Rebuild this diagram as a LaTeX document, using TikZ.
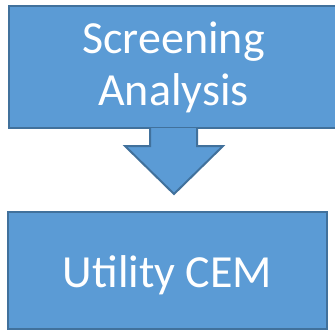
\documentclass[tikz,border=0pt]{standalone}
\usepackage{fontspec}
\setmainfont{Carlito}
\definecolor{boxfill}{RGB}{91,155,213}
\definecolor{boxline}{RGB}{65,113,156}
\tikzset{
  blockbox/.style={draw=boxline, fill=boxfill, line width=2pt, text=white,
    align=center, inner sep=0pt, font=\fontsize{46}{52}\selectfont},
  arrowfill/.style={fill=boxfill},
  arrowline/.style={draw=boxline, line width=2pt, line join=miter}
}
\begin{document}
\begin{tikzpicture}[x=1pt,y=-1pt]
\useasboundingbox (0,0) rectangle (335,330);
% top box
\node[blockbox, minimum width=329pt, minimum height=122pt,
      text height=85pt, text depth=9pt] (screen) at (173.5,67) {Screening\\Analysis};
% bottom box
\node[blockbox, minimum width=319pt, minimum height=117pt,
      text height=33pt, text depth=0pt] (cem) at (167.5,270.5) {Utility CEM};
% block arrow between the boxes
\coordinate (sl) at (150,128);
\coordinate (sr) at (197,128);
\coordinate (tip) at (174,194);
\fill[arrowfill] (sl) -- (150,146) -- (125,146) -- (tip) -- (223,146) -- (197,146) -- (sr) -- cycle;
\draw[arrowline] (sl) -- (150,146) -- (125,146) -- (tip) -- (223,146) -- (197,146) -- (sr);
\end{tikzpicture}
\end{document}
